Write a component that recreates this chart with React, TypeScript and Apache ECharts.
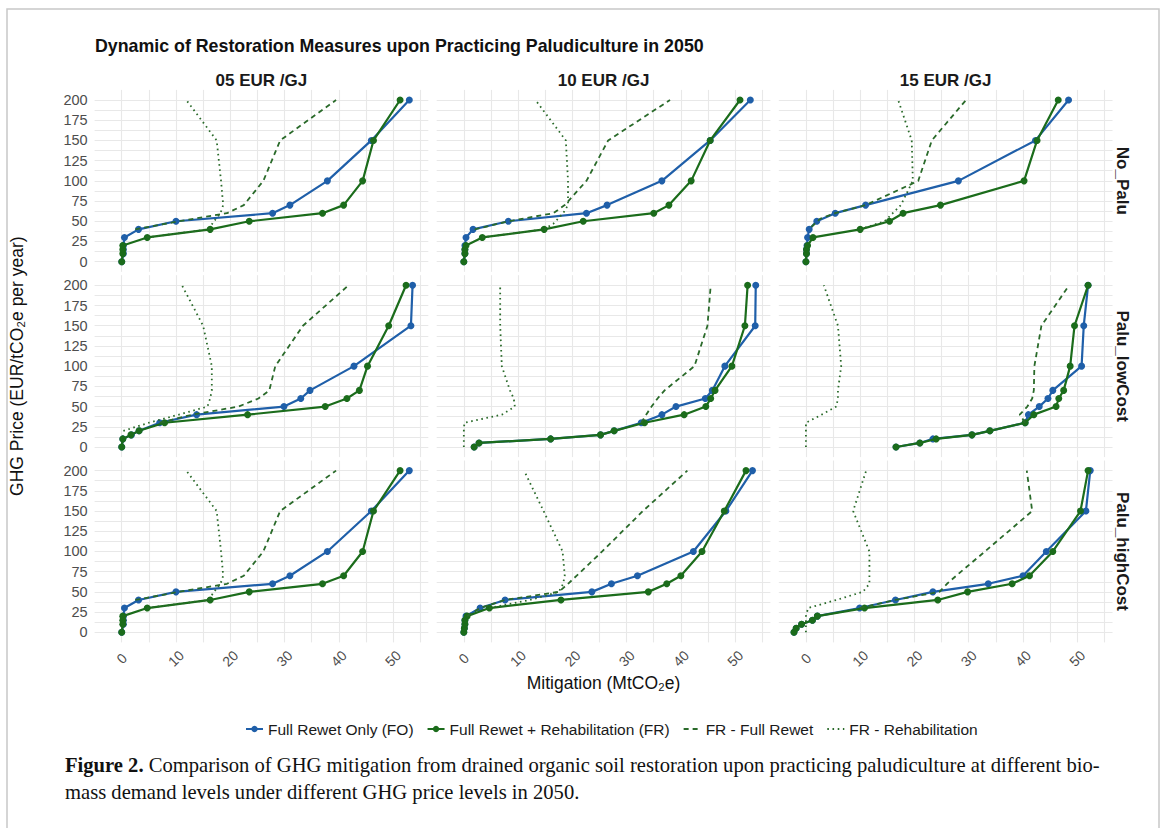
import React, { useEffect, useRef } from "react";
import * as echarts from "echarts";

type Pt = [number, number]; // [mitigation (MtCO2e), GHG price (EUR/tCO2e)]

const TITLE = "Dynamic of Restoration Measures upon Practicing Paludiculture in 2050";
const COL_LABELS = ["05 EUR /GJ", "10 EUR /GJ", "15 EUR /GJ"];
const ROW_LABELS = ["No_Palu", "Palu_lowCost", "Palu_highCost"];
const SERIES_NAMES = [
  "Full Rewet Only (FO)",
  "Full Rewet + Rehabilitation (FR)",
  "FR - Full Rewet",
  "FR - Rehabilitation",
];
const X_TICKS = [0, 10, 20, 30, 40, 50];
const Y_TICKS = [0, 25, 50, 75, 100, 125, 150, 175, 200];
const X_TITLE = "Mitigation (MtCO\u2082e)";
const Y_TITLE = "GHG Price (EUR/tCO\u2082e per year)";
const CAPTION_1 =
  "Comparison of GHG mitigation from drained organic soil restoration upon practicing paludiculture at different bio-";
const CAPTION_2 = "mass demand levels under different GHG price levels in 2050.";

// ---- No_Palu ----
const fo_noPalu_05: Pt[] = [[0, 0], [0.3, 10], [0.3, 15], [0.3, 20], [0.5, 30], [3.1, 40], [10, 50], [27.8, 60], [31, 70], [37.9, 100], [46, 150], [53, 200]];
const fr_noPalu_05: Pt[] = [[0, 0], [0.2, 10], [0.2, 15], [0.2, 20], [4.7, 30], [16.3, 40], [23.5, 50], [37, 60], [40.9, 70], [44.4, 100], [46.4, 150], [51.3, 200]];
const full_noPalu_05: Pt[] = [[2.5, 40], [10.5, 50], [19.4, 60], [22.5, 70], [26.1, 100], [29.2, 150], [39.5, 200]];
const rehab_noPalu_05: Pt[] = [[4.7, 30], [16, 40], [17, 50], [18.2, 60], [18.7, 70], [18.3, 100], [17.5, 150], [11.9, 200]];

const fo_noPalu_10: Pt[] = [[0, 0], [0.2, 10], [0.2, 15], [0.2, 20], [0.4, 30], [1.7, 40], [8.2, 50], [22.6, 60], [26.4, 70], [36.5, 100], [45.4, 150], [52.8, 200]];
const fr_noPalu_10: Pt[] = [[0, 0], [0.2, 10], [0.2, 15], [0.4, 20], [3.4, 30], [14.8, 40], [22, 50], [35, 60], [37.8, 70], [41.9, 100], [45.4, 150], [50.9, 200]];
const full_noPalu_10: Pt[] = [[2, 40], [8.2, 50], [16.5, 60], [18.6, 70], [22.6, 100], [26.6, 150], [38, 200]];
const rehab_noPalu_10: Pt[] = [[3.4, 30], [14.8, 40], [16.5, 47], [18.3, 60], [19.2, 70], [19.2, 100], [18.8, 150], [13.2, 200]];

const fo_noPalu_15: Pt[] = [[0, 0], [0.1, 10], [0.1, 15], [0.2, 20], [0.3, 30], [0.6, 40], [2, 50], [5.4, 60], [11, 70], [28.1, 100], [42.3, 150], [48.4, 200]];
const fr_noPalu_15: Pt[] = [[0, 0], [0.1, 10], [0.1, 15], [0.3, 20], [1.3, 30], [10, 40], [15.4, 50], [17.9, 60], [24.8, 70], [40.2, 100], [42.6, 150], [46.5, 200]];
const full_noPalu_15: Pt[] = [[1, 43], [2.6, 53], [5.4, 60], [11, 70], [20.7, 100], [23.2, 150], [29.5, 200]];
const rehab_noPalu_15: Pt[] = [[10, 40], [14.5, 50], [16, 60], [17.5, 70], [19.7, 100], [19.5, 150], [17, 200]];

// ---- Palu_lowCost ----
const fo_low_05: Pt[] = [[0, 0], [0.2, 10], [1.8, 15], [3.2, 20], [7, 30], [13.8, 40], [29.9, 50], [33, 60], [34.7, 70], [42.8, 100], [53.3, 150], [53.6, 200]];
const fr_low_05: Pt[] = [[0, 0], [0.2, 10], [1.7, 15], [3.2, 20], [7.9, 30], [23.2, 40], [37.5, 50], [41.5, 60], [43.8, 70], [45.3, 100], [49.2, 150], [52.4, 200]];
const full_low_05: Pt[] = [[7, 30], [13, 40], [21.5, 50], [25.2, 60], [27.2, 70], [28.3, 100], [33.4, 150], [41.8, 200]];
const rehab_low_05: Pt[] = [[0.3, 20], [5, 30], [10.5, 40], [15.8, 50], [16.3, 60], [16.6, 70], [16.6, 100], [15, 150], [11.1, 200]];

const fo_low_10: Pt[] = [[1.9, 0], [2.8, 5], [16, 10], [25.2, 15], [27.7, 20], [32.7, 30], [36.5, 40], [39.1, 50], [44.5, 60], [45.8, 70], [48.1, 100], [53.7, 150], [53.8, 200]];
const fr_low_10: Pt[] = [[1.9, 0], [2.8, 5], [16, 10], [25.2, 15], [27.7, 20], [33.3, 30], [40.6, 40], [44.6, 50], [45.5, 60], [46.3, 70], [49.4, 100], [51.8, 150], [52.3, 200]];
const full_low_10: Pt[] = [[32.7, 30], [33.6, 40], [34.6, 50], [35.7, 60], [37, 70], [42.5, 100], [44.9, 150], [45.5, 200]];
const rehab_low_10: Pt[] = [[0, 0], [0, 10], [0, 20], [0.1, 30], [7, 40], [9.4, 50], [9.2, 60], [8.5, 70], [7, 100], [6.7, 150], [6.7, 200]];

const fo_low_15: Pt[] = [[16.6, 0], [21, 5], [23.4, 10], [30.6, 15], [33.9, 20], [40.4, 30], [41, 40], [43, 50], [44.6, 60], [45.5, 70], [50.8, 100], [51.2, 150], [52, 200]];
const fr_low_15: Pt[] = [[16.6, 0], [21, 5], [24, 10], [30.6, 15], [33.9, 20], [40.4, 30], [42, 40], [46.1, 50], [46.6, 60], [47.5, 70], [48.7, 100], [49.5, 150], [52, 200]];
const full_low_15: Pt[] = [[40.4, 30], [39.4, 40], [40.8, 50], [41.7, 60], [42, 70], [42.1, 100], [43.4, 150], [48.5, 200]];
const rehab_low_15: Pt[] = [[0, 0], [0, 10], [0, 20], [0, 30], [2.9, 40], [5.6, 50], [5.9, 60], [5.9, 70], [6.5, 100], [5.9, 150], [3.3, 200]];

// ---- Palu_highCost ----
const fo_high_05: Pt[] = [[0, 0], [0.3, 10], [0.3, 15], [0.3, 20], [0.5, 30], [3.1, 40], [10, 50], [27.8, 60], [31, 70], [37.9, 100], [46, 150], [53, 200]];
const fr_high_05: Pt[] = [[0, 0], [0.2, 10], [0.2, 15], [0.2, 20], [4.7, 30], [16.3, 40], [23.5, 50], [37, 60], [40.9, 70], [44.4, 100], [46.4, 150], [51.3, 200]];
const full_high_05: Pt[] = [[2.5, 40], [10.5, 50], [19.4, 60], [22.5, 70], [26.1, 100], [29.2, 150], [39.5, 200]];
const rehab_high_05: Pt[] = [[4.7, 30], [16, 40], [17, 50], [18.2, 60], [18.7, 70], [18.3, 100], [17.5, 150], [11.9, 200]];

const fo_high_10: Pt[] = [[0, 0], [0.1, 5], [0.2, 10], [0.2, 15], [0.4, 20], [3, 30], [7.6, 40], [23.6, 50], [27.2, 60], [32, 70], [42.3, 100], [48.3, 150], [53.2, 200]];
const fr_high_10: Pt[] = [[0, 0], [0.1, 5], [0.2, 10], [0.2, 15], [0.6, 20], [4.7, 30], [17.9, 40], [34, 50], [37.4, 60], [40, 70], [43.9, 100], [48, 150], [52, 200]];
const full_high_10: Pt[] = [[0.6, 20], [3, 30], [7.6, 40], [17.5, 50], [19.2, 60], [20.8, 70], [25.5, 100], [33, 150], [41.2, 200]];
const rehab_high_10: Pt[] = [[4.7, 30], [12.2, 40], [17.5, 50], [18.3, 60], [18.6, 70], [18.2, 100], [14.7, 150], [11.1, 200]];

const fo_high_15: Pt[] = [[-2.2, 0], [-1.8, 5], [-0.8, 10], [1.2, 15], [2.1, 20], [9.9, 30], [16.5, 40], [23.4, 50], [33.6, 60], [40, 70], [44.3, 100], [51.6, 150], [52.4, 200]];
const fr_high_15: Pt[] = [[-2.2, 0], [-1.8, 5], [-0.8, 10], [1.2, 15], [2.1, 20], [10.8, 30], [24.3, 40], [29.8, 50], [38, 60], [41.2, 70], [45.5, 100], [50.6, 150], [52, 200]];
const full_high_15: Pt[] = [[9.9, 30], [16.5, 40], [24.6, 50], [26, 60], [27.7, 70], [33, 100], [41.7, 150], [40.7, 200]];
const rehab_high_15: Pt[] = [[0, 0], [0, 10], [0, 20], [0.4, 30], [5.6, 40], [10.5, 50], [11.7, 60], [11.7, 70], [11.7, 100], [8.7, 150], [11.1, 200]];

// panels in row-major order: [FO, FR, FR-Full Rewet, FR-Rehabilitation]
const PANELS: Pt[][][] = [
  [fo_noPalu_05, fr_noPalu_05, full_noPalu_05, rehab_noPalu_05],
  [fo_noPalu_10, fr_noPalu_10, full_noPalu_10, rehab_noPalu_10],
  [fo_noPalu_15, fr_noPalu_15, full_noPalu_15, rehab_noPalu_15],
  [fo_low_05, fr_low_05, full_low_05, rehab_low_05],
  [fo_low_10, fr_low_10, full_low_10, rehab_low_10],
  [fo_low_15, fr_low_15, full_low_15, rehab_low_15],
  [fo_high_05, fr_high_05, full_high_05, rehab_high_05],
  [fo_high_10, fr_high_10, full_high_10, rehab_high_10],
  [fo_high_15, fr_high_15, full_high_15, rehab_high_15],
];

const SANS = "'Liberation Sans', Arial, sans-serif";
const SERIF = "'Liberation Serif', 'Times New Roman', serif";
const BLUE = "#1F5FA9";
const GREEN = "#1B6C1B";
const GREEN2 = "#2A6A2A";

const COL_LEFT = [94.6, 436.7, 778.8];
const PANEL_W = 333.7;
const ROW_TOP = [89.9, 275.2, 460.5];
const PANEL_H = 181.9;

export default function App() {
  const ref = useRef<HTMLDivElement>(null);

  useEffect(() => {
    if (!ref.current) return;
    const chart = echarts.init(ref.current, undefined, { renderer: "svg" });

    const grids: any[] = [];
    const xAxes: any[] = [];
    const yAxes: any[] = [];
    const series: any[] = [];

    for (let r = 0; r < 3; r++) {
      for (let c = 0; c < 3; c++) {
        const p = r * 3 + c;
        grids.push({ left: COL_LEFT[c], top: ROW_TOP[r], width: PANEL_W, height: PANEL_H, containLabel: false });
        xAxes.push({
          gridIndex: p,
          type: "value",
          min: -5,
          max: 56.5,
          interval: 5,
          axisLine: { show: false },
          axisTick: { show: false },
          splitLine: { show: true, showMinLine: false, showMaxLine: false, lineStyle: { color: "#E8E8E8", width: 1.1 } },
          axisLabel: {
            show: r === 2,
            rotate: 45,
            align: "center",
            verticalAlign: "middle",
            margin: 16,
            fontSize: 14,
            color: "#4D4D4D",
            fontFamily: SANS,
            formatter: (v: number) => (X_TICKS.includes(v) ? String(v) : ""),
          },
        });
        yAxes.push({
          gridIndex: p,
          type: "value",
          min: -12.5,
          max: 212.5,
          interval: 12.5,
          axisLine: { show: false },
          axisTick: { show: false },
          splitLine: { show: true, showMinLine: false, showMaxLine: false, lineStyle: { color: "#E8E8E8", width: 1.1 } },
          axisLabel: {
            show: c === 0,
            margin: 7,
            fontSize: 14.5,
            color: "#4D4D4D",
            fontFamily: SANS,
            formatter: (v: number) => (Y_TICKS.includes(v) ? String(v) : ""),
          },
        });
        const [fo, fr, full, rehab] = PANELS[p];
        series.push({
          name: SERIES_NAMES[0], type: "line", xAxisIndex: p, yAxisIndex: p, data: fo,
          symbol: "circle", symbolSize: 7, color: BLUE,
          lineStyle: { width: 2.2, color: BLUE }, itemStyle: { color: BLUE }, z: 3,
        });
        series.push({
          name: SERIES_NAMES[1], type: "line", xAxisIndex: p, yAxisIndex: p, data: fr,
          symbol: "circle", symbolSize: 7, color: GREEN,
          lineStyle: { width: 2.2, color: GREEN }, itemStyle: { color: GREEN }, z: 4,
        });
        series.push({
          name: SERIES_NAMES[2], type: "line", xAxisIndex: p, yAxisIndex: p, data: full,
          symbol: "none", color: GREEN2,
          lineStyle: { width: 1.8, color: GREEN2, type: [5, 4] }, z: 5,
        });
        series.push({
          name: SERIES_NAMES[3], type: "line", xAxisIndex: p, yAxisIndex: p, data: rehab,
          symbol: "none", color: GREEN2,
          lineStyle: { width: 1.8, color: GREEN2, type: [1.6, 3.6] }, z: 5,
        });
      }
    }

    const graphics: any[] = [
      {
        type: "rect",
        shape: { x: 7, y: 9, width: 1152, height: 840 },
        style: { fill: "none", stroke: "#C8C8C8", lineWidth: 1.5 },
        silent: true,
      },
      {
        type: "text", x: 95, y: 46,
        style: { text: TITLE, fontFamily: SANS, fontSize: 17.8, fontWeight: "bold", fill: "#111", align: "left", verticalAlign: "middle" },
      },
      {
        type: "text", x: 17, y: (ROW_TOP[0] + ROW_TOP[2] + PANEL_H) / 2, rotation: Math.PI / 2,
        style: { text: Y_TITLE, fontFamily: SANS, fontSize: 17.5, fill: "#111", align: "center", verticalAlign: "middle" },
      },
      {
        type: "text", x: (COL_LEFT[0] + COL_LEFT[2] + PANEL_W) / 2, y: 683,
        style: { text: X_TITLE, fontFamily: SANS, fontSize: 17.5, fill: "#111", align: "center", verticalAlign: "middle" },
      },
      {
        type: "text", x: 65, y: 765,
        style: {
          text: "{b|Figure 2.} " + CAPTION_1,
          fontFamily: SERIF, fontSize: 20.6, fill: "#111", align: "left", verticalAlign: "middle",
          rich: { b: { fontFamily: SERIF, fontSize: 20.6, fontWeight: "bold", fill: "#111" } },
        },
      },
      {
        type: "text", x: 65, y: 792,
        style: { text: CAPTION_2, fontFamily: SERIF, fontSize: 20.6, fill: "#111", align: "left", verticalAlign: "middle" },
      },
    ];
    COL_LABELS.forEach((t, c) => {
      graphics.push({
        type: "text", x: COL_LEFT[c] + PANEL_W / 2, y: 80,
        style: { text: t, fontFamily: SANS, fontSize: 17, fontWeight: "bold", fill: "#1A1A1A", align: "center", verticalAlign: "middle" },
      });
    });
    ROW_LABELS.forEach((t, r) => {
      graphics.push({
        type: "text", x: 1122, y: ROW_TOP[r] + PANEL_H / 2, rotation: -Math.PI / 2,
        style: { text: t, fontFamily: SANS, fontSize: 17, fontWeight: "bold", fill: "#1A1A1A", align: "center", verticalAlign: "middle" },
      });
    });

    chart.setOption({
      animation: false,
      backgroundColor: "#FFFFFF",
      grid: grids,
      xAxis: xAxes,
      yAxis: yAxes,
      series,
      legend: {
        data: [
          { name: SERIES_NAMES[0] },
          { name: SERIES_NAMES[1] },
          { name: SERIES_NAMES[2], itemStyle: { opacity: 0 } },
          { name: SERIES_NAMES[3], itemStyle: { opacity: 0 } },
        ],
        left: 240,
        top: 716,
        itemWidth: 17,
        itemHeight: 8,
        itemGap: 13,
        textStyle: { fontFamily: SANS, fontSize: 15.5, color: "#1A1A1A" },
      },
      graphic: graphics,
    });

    return () => chart.dispose();
  }, []);

  return <div ref={ref} style={{ position: "absolute", left: 0, top: 0, width: 1167, height: 828 }} />;
}
